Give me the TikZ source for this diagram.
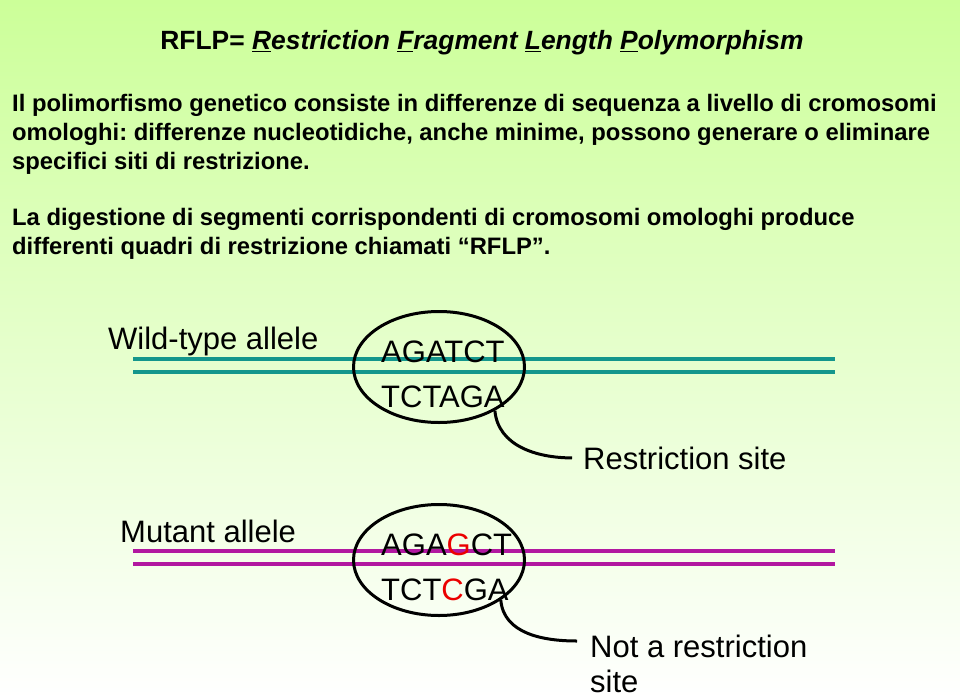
\documentclass[tikz,border=0pt]{standalone}
\usepackage{fontspec}
\setmainfont{Liberation Sans}
\usetikzlibrary{shapes.geometric}
\definecolor{bgtop}{RGB}{204,255,153}
\definecolor{wtline}{RGB}{20,150,140}
\definecolor{mutline}{RGB}{178,24,160}
\definecolor{mutred}{RGB}{235,0,0}
\newcommand{\mut}[1]{\textcolor{mutred}{#1}}
\frenchspacing
\tikzset{
  para/.style={font=\fontsize{23.8}{29}\selectfont\bfseries, anchor=base west, inner sep=0pt},
  label/.style={font=\fontsize{31}{35}\selectfont, anchor=base west, inner sep=0pt},
  seq/.style={font=\fontsize{31}{31}\selectfont, anchor=base west, inner sep=0pt},
  site/.style={shape=ellipse, draw=black, line width=3pt, minimum width=171pt, minimum height=111pt, inner sep=0pt},
  strand/.style={line width=4pt},
  callout/.style={line width=3pt}
}

\begin{document}
\begin{tikzpicture}[x=1pt,y=-1pt]
        \useasboundingbox (0,0) rectangle (960,698);
        \shade[top color=bgtop, bottom color=white] (0,0) rectangle (960,698);

        %heading and text
        \node[para, anchor=base] (title) at (482,50) {\fontsize{26.4}{29}\selectfont RFLP= \textit{\underline{R}estriction \underline{F}ragment \underline{L}ength \underline{P}olymorphism}};
        \node[para] (p1a) at (12,111) {Il polimorfismo genetico consiste in differenze di sequenza a livello di cromosomi};
        \node[para] (p1b) at (12,140) {omologhi: differenze nucleotidiche, anche minime, possono generare o eliminare};
        \node[para] (p1c) at (12,169) {specifici siti di restrizione.};
        \node[para] (p2a) at (12,225) {La digestione di segmenti corrispondenti di cromosomi omologhi produce};
        \node[para] (p2b) at (12,254) {differenti quadri di restrizione chiamati “RFLP”.};

        %wild-type allele
        \draw[strand, wtline] (133,359) -- (835,359);
        \draw[strand, wtline] (133,372) -- (835,372);
        \node[site] (wtsite) at (439,367) {};
        \node[label] (wtname) at (108,349) {Wild-type allele};
        \node[seq] (wttop) at (381,362) {AGATCT};
        \node[seq] (wtbot) at (381,407) {TCTAGA};
        \node[label, inner xsep=11pt] (rstext) at (572,469) {Restriction site};

        %mutant allele
        \draw[strand, mutline] (133,551) -- (835,551);
        \draw[strand, mutline] (133,564) -- (835,564);
        \node[site] (mutsite) at (439,560) {};
        \node[label] (mutname) at (120,542) {Mutant allele};
        \node[seq] (muttop) at (381,555) {AGA\mut{G}CT};
        \node[seq] (mutbot) at (381,600) {TCT\mut{C}GA};
        \node[label, anchor=north west, inner xsep=13pt, align=left] (nrtext) at (577,635) {Not a restriction\\site};

        %callouts
        \path[callout] (wtsite.-38) edge [out=-85, in=180] (rstext.west);
        \path[callout] (mutsite.-33) edge [out=-85, in=180] ([yshift=-6pt]nrtext.north west);
\end{tikzpicture}
\end{document}
